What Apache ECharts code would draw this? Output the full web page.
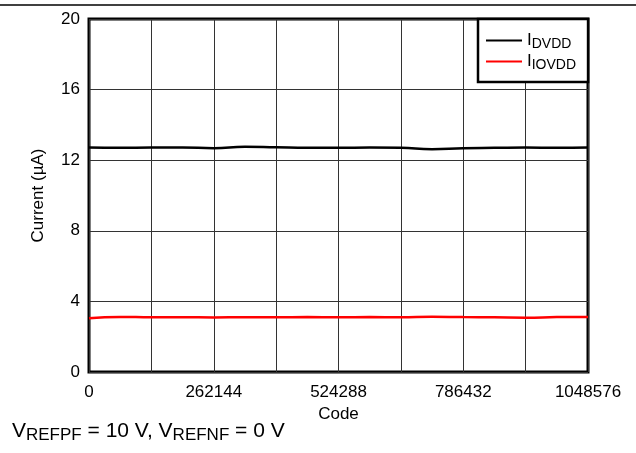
<!DOCTYPE html>
<html><head><meta charset="utf-8">
<script src="https://cdn.jsdelivr.net/npm/echarts@6/dist/echarts.min.js"></script>
<style>html,body{margin:0;padding:0;background:#fff}#c{width:636px;height:453px}</style>
</head><body><div id="c"></div>
<script>
const codes = [0,65536,131072,196608,262144,327680,393216,458752,524288,589824,655360,720896,786432,851968,917504,983040,1048576];
const iDVDD = [12.72,12.70,12.72,12.72,12.68,12.76,12.73,12.70,12.70,12.72,12.70,12.62,12.68,12.70,12.72,12.70,12.72];
const iIOVDD = [3.05,3.12,3.10,3.10,3.09,3.10,3.10,3.11,3.10,3.11,3.10,3.13,3.11,3.10,3.08,3.11,3.12];
const xTickLabels = ['0','262144','524288','786432','1048576'];
const yTicks = [0,4,8,12,16,20];

const FONT = 'Liberation Sans, Arial, sans-serif';
const chart = echarts.init(document.getElementById('c'));
const pair = (xs, ys) => xs.map((x,i)=>[x, ys[i]]);
chart.setOption({
  animation:false,
  textStyle:{fontFamily:FONT},
  grid:{left:89,right:48,top:19,bottom:81,show:true,borderColor:'#000',borderWidth:3,containLabel:false},
  xAxis:{type:'value',min:0,max:1048576,interval:131072,
    name:'Code',nameLocation:'middle',nameGap:33,nameTextStyle:{fontSize:17,color:'#000',fontFamily:FONT},
    axisLine:{show:false},axisTick:{show:false},
    axisLabel:{fontSize:17,color:'#000',margin:12,fontFamily:FONT,
      formatter:v=>{const i=xTickLabels.indexOf(String(v));return i>=0?xTickLabels[i]:'';}},
    splitLine:{show:true,lineStyle:{color:'#333',width:1}}},
  yAxis:{type:'value',min:0,max:20,interval:4,
    name:'Current (µA)',nameLocation:'middle',nameGap:42,nameTextStyle:{fontSize:17,color:'#000',fontFamily:FONT},
    axisLine:{show:false},axisTick:{show:false},
    axisLabel:{fontSize:17,color:'#000',margin:9,fontFamily:FONT,formatter:v=>yTicks.includes(v)?String(v):''},
    splitLine:{show:true,lineStyle:{color:'#333',width:1}}},
  legend:{left:478,top:19,orient:'vertical',
    backgroundColor:'#fff',borderColor:'#000',borderWidth:2.5,borderRadius:0,
    padding:[11,12,10,8],itemGap:0,itemWidth:36,itemHeight:18,
    icon:'path://M0,8L36,8L36,10L0,10Z',
    data:[{name:'IDVDD'},{name:'IIOVDD'}],
    formatter:n=>'{m|I}{s|'+n.slice(1)+'}',
    textStyle:{color:'#000',fontFamily:FONT,rich:{
      m:{fontSize:17,fontFamily:FONT,color:'#000',lineHeight:18},
      s:{fontSize:14,fontFamily:FONT,color:'#000',lineHeight:18,padding:[7,0,0,0]}}}},
  graphic:[
    {type:'line',shape:{x1:0,y1:5,x2:636,y2:5},style:{stroke:'#000',lineWidth:1.5}},
    {type:'text',left:12,top:419,style:{
      text:'{m|V}{s|REFPF}{m| = 10 V, V}{s|REFNF}{m| = 0 V}',
      rich:{m:{fontSize:21,fontFamily:FONT,fill:'#000',lineHeight:25},
            s:{fontSize:17,fontFamily:FONT,fill:'#000',lineHeight:25,padding:[8,0,0,0]}}}}
  ],
  series:[
    {name:'IDVDD',type:'line',data:pair(codes,iDVDD),smooth:true,showSymbol:false,
      lineStyle:{color:'#000',width:2.5},itemStyle:{color:'#000'}},
    {name:'IIOVDD',type:'line',data:pair(codes,iIOVDD),smooth:true,showSymbol:false,
      lineStyle:{color:'#ff0000',width:2.5},itemStyle:{color:'#ff0000'}}
  ]
});
</script></body></html>
